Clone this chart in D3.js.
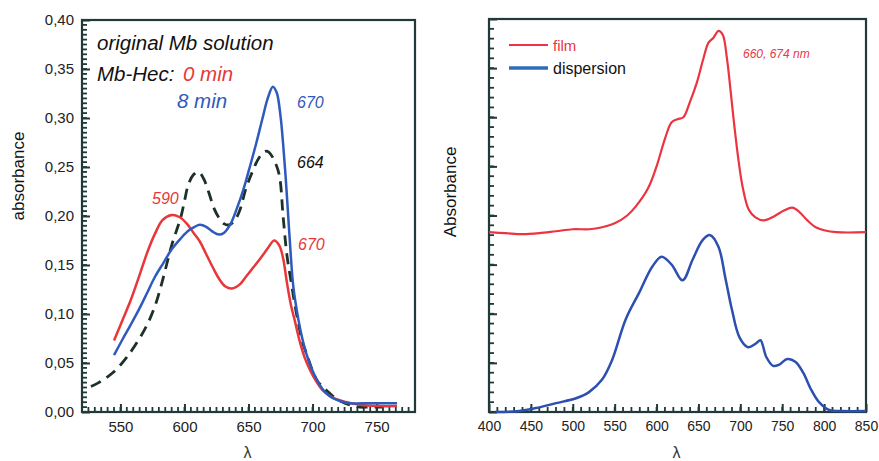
<!DOCTYPE html>
<html>
<head>
<meta charset="utf-8">
<script src="https://cdn.jsdelivr.net/npm/d3@7"></script>
<style>
  body { margin: 0; background: #fff; }
  svg { display: block; font-family: "Liberation Sans", Arial, sans-serif; }
  .tick line { stroke: #1f3a38; stroke-width: 2; }
  .domain { display: none; }
</style>
</head>
<body>
<svg id="chart" width="879" height="461"></svg>
<script>
// left panel: Mb solution vs Mb-Hec
const min0Lambda = [545, 552, 558, 565, 571, 577, 583, 590, 596, 602, 607, 612, 617, 622, 627, 632, 637, 643, 648, 654, 660, 665, 670, 674, 677, 680, 683, 686, 690, 694, 698, 703, 708, 714, 721, 730, 740, 752, 766];
const min0Abs    = [0.073, 0.095, 0.114, 0.140, 0.163, 0.182, 0.196, 0.201, 0.199, 0.192, 0.183, 0.174, 0.161, 0.148, 0.136, 0.128, 0.126, 0.130, 0.138, 0.148, 0.158, 0.167, 0.175, 0.170, 0.157, 0.132, 0.110, 0.094, 0.072, 0.055, 0.043, 0.031, 0.022, 0.016, 0.012, 0.009, 0.007, 0.006, 0.006];

const min8Lambda = [545, 552, 558, 565, 571, 577, 584, 590, 597, 603, 608, 612, 617, 622, 627, 631, 636, 641, 646, 651, 656, 661, 665, 669, 672, 675, 677, 679, 681, 683, 685, 689, 692, 695, 700, 705, 710, 716, 722, 729, 745, 766];
const min8Abs    = [0.058, 0.075, 0.089, 0.106, 0.122, 0.138, 0.153, 0.166, 0.177, 0.185, 0.189, 0.191, 0.189, 0.184, 0.181, 0.183, 0.192, 0.208, 0.227, 0.250, 0.274, 0.300, 0.320, 0.332, 0.326, 0.302, 0.274, 0.240, 0.200, 0.160, 0.128, 0.094, 0.075, 0.060, 0.042, 0.029, 0.020, 0.014, 0.011, 0.009, 0.009, 0.009];

const origLambda = [527, 533, 539, 544, 550, 555, 561, 568, 573, 578, 582, 586, 590, 594, 597, 600, 603, 607, 611, 615, 619, 623, 627, 631, 635, 639, 643, 648, 653, 658, 663, 666, 670, 674, 677, 680, 683, 686, 689, 692, 696, 700, 704, 707, 711, 716, 722, 730, 737, 745, 755];
const origAbs    = [0.026, 0.030, 0.035, 0.040, 0.048, 0.056, 0.067, 0.082, 0.095, 0.112, 0.130, 0.150, 0.170, 0.186, 0.198, 0.215, 0.232, 0.242, 0.245, 0.238, 0.224, 0.208, 0.198, 0.192, 0.191, 0.195, 0.205, 0.228, 0.245, 0.259, 0.266, 0.265, 0.257, 0.242, 0.200, 0.160, 0.135, 0.111, 0.090, 0.072, 0.057, 0.042, 0.031, 0.027, 0.022, 0.016, 0.011, 0.007, 0.005, 0.005, 0.005];

// right panel: film vs dispersion
const filmLambda = [400, 420, 440, 460, 480, 500, 520, 535, 550, 565, 575, 590, 600, 610, 618, 625, 632, 640, 648, 656, 662, 668, 674, 679, 684, 688, 693, 698, 703, 710, 718, 728, 740, 752, 762, 770, 780, 790, 800, 815, 850];
const filmAbs    = [0.183, 0.182, 0.181, 0.182, 0.184, 0.186, 0.186, 0.188, 0.192, 0.200, 0.209, 0.228, 0.250, 0.278, 0.295, 0.298, 0.300, 0.316, 0.335, 0.360, 0.376, 0.381, 0.388, 0.384, 0.360, 0.330, 0.290, 0.255, 0.228, 0.206, 0.198, 0.195, 0.199, 0.205, 0.208, 0.204, 0.195, 0.188, 0.185, 0.183, 0.183];

const dispLambda = [408, 436, 456, 480, 504, 519, 535, 547, 563, 579, 595, 606, 618, 631, 643, 655, 664, 674, 682, 690, 699, 709, 719, 724, 731, 739, 746, 756, 766, 775, 785, 794, 806, 820, 850];
const dispAbs    = [0.000, 0.001, 0.004, 0.009, 0.014, 0.020, 0.033, 0.053, 0.094, 0.121, 0.148, 0.158, 0.150, 0.134, 0.155, 0.175, 0.180, 0.168, 0.137, 0.104, 0.076, 0.066, 0.070, 0.073, 0.056, 0.047, 0.048, 0.054, 0.051, 0.040, 0.022, 0.010, 0.002, 0.001, 0.001];

const leftXTicks = [550, 600, 650, 700, 750];
const leftYTicks = [0, 0.05, 0.10, 0.15, 0.20, 0.25, 0.30, 0.35, 0.40];
const rightXTicks = [400, 450, 500, 550, 600, 650, 700, 750, 800, 850];

const svg = d3.select('#chart');
const frameColor = '#1f3a38';
const red = '#e8373a', blue = '#2f5abd', dark = '#1e3129';

function zip(xs, ys) { return xs.map((x, i) => [x, ys[i]]); }

function drawPanel(opt) {
  const x = d3.scaleLinear().domain(opt.xDomain).range([opt.left, opt.right]);
  const y = d3.scaleLinear().domain([0, 0.40]).range([opt.bottom, opt.top]);
  const g = svg.append('g');

  // minor ticks, drawn by hand so they stay visible
  const xMinor = d3.range(opt.xDomain[0], opt.xDomain[1] + 0.1, opt.xMinor);
  const yMinor = d3.range(0, 40.01, opt.yMinor * 100).map(v => v / 100);
  g.append('g').selectAll('line').data(xMinor).join('line')
    .attr('x1', d => x(d)).attr('x2', d => x(d))
    .attr('y1', opt.bottom).attr('y2', opt.bottom - 5)
    .attr('stroke', frameColor).attr('stroke-width', 1.8);
  g.append('g').selectAll('line').data(yMinor).join('line')
    .attr('x1', opt.left).attr('x2', opt.left + 5)
    .attr('y1', d => y(d)).attr('y2', d => y(d))
    .attr('stroke', frameColor).attr('stroke-width', 1.8);

  // major ticks
  g.append('g').attr('transform', `translate(0,${opt.bottom})`)
    .call(d3.axisBottom(x).tickValues(opt.xTicks).tickSize(-8).tickPadding(9).tickFormat(d3.format('d')))
    .selectAll('text').attr('font-size', opt.xFont).attr('fill', '#222');
  const ya = g.append('g').attr('transform', `translate(${opt.left},0)`)
    .call(d3.axisLeft(y).tickValues(leftYTicks).tickSize(-8).tickPadding(8)
      .tickFormat(opt.yLabels ? (d => d3.format('.2f')(d).replace('.', ',')) : ''));
  ya.selectAll('text').attr('font-size', 15).attr('fill', '#222');

  g.append('rect')
    .attr('x', opt.left).attr('y', opt.top)
    .attr('width', opt.right - opt.left).attr('height', opt.bottom - opt.top)
    .attr('fill', 'none').attr('stroke', frameColor).attr('stroke-width', 2.2);

  const line = d3.line().x(d => x(d[0])).y(d => y(d[1])).curve(d3.curveCatmullRom.alpha(0.5));
  opt.series.forEach(s => {
    g.append('path')
      .datum(zip(s.xs, s.ys))
      .attr('d', line)
      .attr('fill', 'none')
      .attr('stroke', s.color)
      .attr('stroke-width', s.width)
      .attr('stroke-dasharray', s.dash || null)
      .attr('stroke-linejoin', 'round');
  });

  g.append('text')
    .attr('x', (opt.left + opt.right) / 2 - 1).attr('y', 458)
    .attr('text-anchor', 'middle').attr('font-size', 16).attr('fill', '#333')
    .text('λ');
  g.append('text')
    .attr('transform', `translate(${opt.yTitleX},${opt.yTitleY}) rotate(-90)`)
    .attr('text-anchor', 'middle').attr('font-size', 17).attr('fill', '#111')
    .text(opt.yTitle);
  return g;
}

drawPanel({
  xDomain: [520, 780], left: 82, right: 415, top: 20, bottom: 412,
  xMinor: 5, yMinor: 0.005, xTicks: leftXTicks, xFont: 15, yLabels: true,
  yTitle: 'absorbance', yTitleX: 24, yTitleY: 176,
  series: [
    { xs: origLambda, ys: origAbs, color: dark, width: 2.8, dash: '11,7' },
    { xs: min0Lambda, ys: min0Abs, color: red, width: 2.5 },
    { xs: min8Lambda, ys: min8Abs, color: blue, width: 2.5 }
  ]
});

drawPanel({
  xDomain: [400, 850], left: 489, right: 866, top: 19, bottom: 412,
  xMinor: 10, yMinor: 0.01, xTicks: rightXTicks, xFont: 14, yLabels: false,
  yTitle: 'Absorbance', yTitleX: 456, yTitleY: 192,
  series: [
    { xs: filmLambda, ys: filmAbs, color: '#ec3340', width: 2.2 },
    { xs: dispLambda, ys: dispAbs, color: '#2c4fb0', width: 2.5 }
  ]
});

// annotations, left panel
const notes = [
  { x: 97, y: 50, t: 'original Mb solution', c: '#111', s: 20.5 },
  { x: 97, y: 81, t: 'Mb-Hec:', c: '#111', s: 20.5 },
  { x: 183, y: 81, t: '0 min', c: red, s: 20.5 },
  { x: 177, y: 108, t: '8 min', c: blue, s: 20.5 },
  { x: 297, y: 108, t: '670', c: blue, s: 16 },
  { x: 297, y: 168, t: '664', c: '#111', s: 16 },
  { x: 152, y: 204, t: '590', c: red, s: 16 },
  { x: 298, y: 250, t: '670', c: red, s: 16 },
  { x: 743, y: 58, t: '660, 674 nm', c: '#e8374a', s: 12 }
];
svg.append('g').selectAll('text').data(notes).join('text')
  .attr('x', d => d.x).attr('y', d => d.y)
  .attr('font-size', d => d.s).attr('font-style', 'italic')
  .attr('fill', d => d.c).text(d => d.t);

// legend, right panel
const legend = [
  { t: 'film', c: '#ee3344', w: 2, y: 45, s: 15 },
  { t: 'dispersion', c: '#2f6db5', w: 3.5, y: 68, s: 16 }
];
const lg = svg.append('g');
lg.selectAll('line').data(legend).join('line')
  .attr('x1', 509).attr('x2', 548).attr('y1', d => d.y).attr('y2', d => d.y)
  .attr('stroke', d => d.c).attr('stroke-width', d => d.w);
lg.selectAll('text').data(legend).join('text')
  .attr('x', 553).attr('y', d => d.y + 5.5)
  .attr('font-size', d => d.s)
  .attr('fill', (d, i) => i === 0 ? d.c : '#111')
  .text(d => d.t);
</script>
</body>
</html>
